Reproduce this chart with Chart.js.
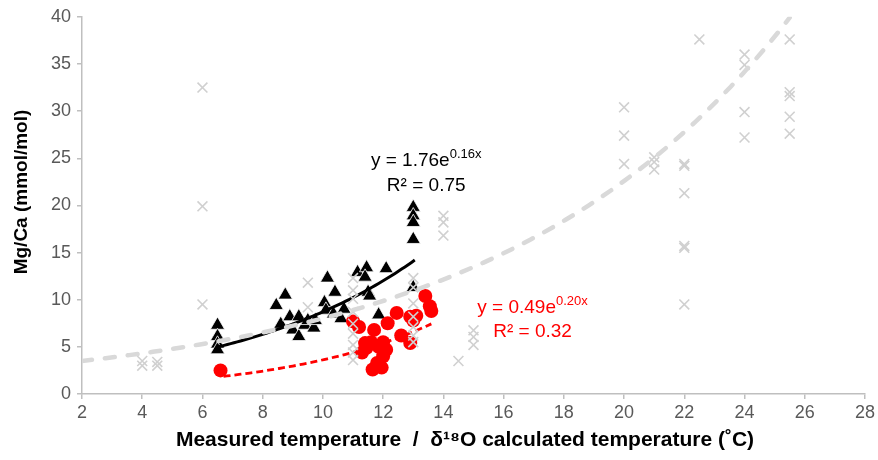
<!DOCTYPE html>
<html>
<head>
<meta charset="utf-8">
<script src="https://cdn.jsdelivr.net/npm/chart.js@4/dist/chart.umd.min.js"></script>
<style>
  html, body { margin: 0; padding: 0; background: #ffffff; }
  #wrap { width: 878px; height: 460px; position: relative; }
</style>
</head>
<body>
<div id="wrap"><canvas id="c" width="878" height="460"></canvas></div>
<script>
// ---- Data ----
// Measured temperature (black triangles)
const measuredX = [6.5, 6.5, 6.5, 6.5, 8.45, 8.75, 8.6, 8.9, 9.2, 9.0, 9.2, 9.4, 9.5, 9.7, 9.75,
                   10.15, 10.4, 10.05, 10.1, 10.35, 10.6, 10.7, 11.15, 11.45, 11.4, 11.5, 11.55, 12.1, 11.85,
                   13.0, 13.0, 13.0, 13.0, 13.0];
const measuredY = [7.3, 6.1, 5.3, 4.7, 9.4, 10.5, 7.4, 8.2, 8.2, 6.8, 6.1, 7.3, 7.8, 7.0, 7.8,
                   12.3, 10.8, 9.7, 8.9, 8.5, 8.0, 9.0, 12.9, 13.4, 12.4, 10.8, 10.4, 13.3, 8.4,
                   19.8, 18.9, 18.2, 16.4, 11.3];
// δ18O calculated temperature (red circles)
const calcX = [6.6, 11.0, 11.2, 11.4, 11.3, 11.45, 11.6, 11.7, 11.85, 12.1, 12.0, 11.8, 11.65, 11.95,
               12.15, 12.45, 12.6, 12.9, 12.9, 13.1, 13.0, 13.4, 13.55, 13.6, 12.0];
const calcY = [2.5, 7.7, 7.1, 5.4, 4.4, 4.9, 5.5, 6.8, 5.0, 4.7, 4.0, 3.3, 2.6, 2.8,
               7.5, 8.6, 6.2, 5.4, 8.2, 8.3, 7.8, 10.4, 9.3, 8.8, 5.5];
// Other published data (grey crosses)
const otherX = [4, 4, 4.5, 4.5, 6, 6, 6, 9.5, 9.5,
                11, 11, 11, 11, 11, 11, 11, 11, 11,
                13, 13, 13, 13, 13, 13, 13,
                14, 14, 14, 14.5, 15, 15, 15,
                20, 20, 20, 21, 21, 21, 22, 22, 22, 22, 22, 22, 22.5,
                24, 24, 24, 24, 25.5, 25.5, 25.5, 25.5, 25.5];
const otherY = [3.0, 3.5, 3.0, 3.4, 32.5, 19.9, 9.5, 11.8, 9.2,
                12.3, 11.0, 10.1, 8.7, 7.45, 6.4, 5.2, 4.4, 3.6,
                12.3, 11.3, 9.6, 8.2, 7.1, 6.2, 5.5,
                18.9, 18.2, 16.8, 3.5, 6.75, 6.05, 5.2,
                30.4, 27.4, 24.4, 25.1, 24.6, 23.8, 24.4, 24.2, 21.3, 15.7, 15.5, 9.5, 37.6,
                36.0, 34.9, 29.9, 27.2, 37.6, 32.0, 31.6, 29.4, 27.6];
// Exponential trend lines y = a·e^(b·x) (equations as printed on the chart; grey estimated)
const trendMeasured = { a: 1.76, b: 0.16, from: 6.5, to: 13.05 };
const trendCalc     = { a: 0.49, b: 0.20, from: 6.7, to: 13.6 };
const trendOther    = { a: 2.85, b: 0.1035, from: 2, to: 25.5 };
const eqMeasured = { coef: '1.76', exp: '0.16x', r2: '0.75' };
const eqCalc     = { coef: '0.49', exp: '0.20x', r2: '0.32' };
// Axis ticks
const xTicks = [2, 4, 6, 8, 10, 12, 14, 16, 18, 20, 22, 24, 26, 28];
const yTicks = [0, 5, 10, 15, 20, 25, 30, 35, 40];

// ---- Build chart ----
const zip = (xs, ys) => xs.map((x, i) => ({ x: x, y: ys[i] }));
function curve(t) {
  const pts = [];
  const n = 60;
  for (let i = 0; i <= n; i++) {
    const x = t.from + (t.to - t.from) * i / n;
    pts.push({ x: x, y: t.a * Math.exp(t.b * x) });
  }
  return pts;
}

const FONT = "'Liberation Sans', Arial, Helvetica, sans-serif";

const textPlugin = {
  id: 'texts',
  afterDraw(chart) {
    const ctx = chart.ctx;
    const xs = chart.scales.x, ys = chart.scales.y;
    ctx.save();
    // axis titles
    ctx.fillStyle = '#000';
    ctx.font = 'bold 21px ' + FONT;
    ctx.textAlign = 'center';
    ctx.textBaseline = 'middle';
    ctx.fillText('Measured temperature  /  \u03B4\u00B9\u2078O calculated temperature (\u02DAC)', 465, 440);
    ctx.translate(22, 192);
    ctx.rotate(-Math.PI / 2);
    ctx.font = 'bold 19px ' + FONT;
    ctx.fillText('Mg/Ca (mmol/mol)', 0, 0);
    ctx.restore();

    function eq(e, cx, y1, y2, color) {
      ctx.save();
      ctx.fillStyle = color;
      ctx.textBaseline = 'alphabetic';
      ctx.textAlign = 'left';
      const main = 'y = ' + e.coef + 'e';
      ctx.font = '19px ' + FONT;
      const w1 = ctx.measureText(main).width;
      ctx.font = '13px ' + FONT;
      const w2 = ctx.measureText(e.exp).width;
      const px = xs.getPixelForValue(cx);
      const b1 = ys.getPixelForValue(y1);
      const x0 = px - (w1 + w2) / 2;
      ctx.font = '19px ' + FONT;
      ctx.fillText(main, x0, b1);
      ctx.font = '13px ' + FONT;
      ctx.fillText(e.exp, x0 + w1, b1 - 8);
      ctx.font = '19px ' + FONT;
      ctx.textAlign = 'center';
      ctx.fillText('R\u00B2 = ' + e.r2, px, ys.getPixelForValue(y2));
      ctx.restore();
    }
    eq(eqMeasured, 13.43, 24.2, 21.5, '#000000');
    eq(eqCalc, 16.96, 8.55, 6.0, '#ff0000');
  }
};

new Chart(document.getElementById('c'), {
  type: 'scatter',
  data: {
    datasets: [
      { label: 'trend other', data: curve(trendOther), showLine: true, pointRadius: 0,
        borderColor: '#d9d9d9', borderWidth: 4.5, borderDash: [10, 13], borderCapStyle: 'round',
        order: 0, tension: 0 },
      { label: 'other', data: zip(otherX, otherY), pointStyle: 'crossRot', pointRadius: 7,
        borderColor: '#d0d0d0', backgroundColor: '#d0d0d0', pointBorderWidth: 1.6, order: 1 },
      { label: 'trend calc', data: curve(trendCalc), showLine: true, pointRadius: 0,
        borderColor: '#ff0000', borderWidth: 2.8, borderDash: [7, 4], order: 2 },
      { label: 'trend measured', data: curve(trendMeasured), showLine: true, pointRadius: 0,
        borderColor: '#000000', borderWidth: 3, order: 3 },
      { label: 'calc', data: zip(calcX, calcY), pointStyle: 'circle', pointRadius: 7,
        backgroundColor: '#ff0000', borderColor: '#ff0000', pointBorderWidth: 0, order: 4 },
      { label: 'measured', data: zip(measuredX, measuredY), pointStyle: 'triangle', pointRadius: 8.2,
        backgroundColor: '#000000', borderColor: '#ffffff', pointBorderWidth: 0.8, order: 5 }
    ]
  },
  options: {
    responsive: false,
    animation: false,
    devicePixelRatio: 1,
    layout: { padding: { top: 15, right: 12, left: 0, bottom: 0 } },
    plugins: { legend: { display: false }, tooltip: { enabled: false } },
    scales: {
      x: {
        type: 'linear', min: 2, max: 28,
        afterBuildTicks(s) { s.ticks = xTicks.map(v => ({ value: v })); },
        afterFit(s) { s.height = 66; },
        grid: { display: true, drawOnChartArea: false, drawTicks: true, tickLength: 5, color: '#bfbfbf', lineWidth: 1.5 },
        border: { display: true, color: '#bfbfbf', width: 1.5 },
        ticks: { color: '#595959', font: { family: FONT, size: 18 }, padding: 3, maxRotation: 0 }
      },
      y: {
        type: 'linear', min: 0, max: 40,
        afterBuildTicks(s) { s.ticks = yTicks.map(v => ({ value: v })); },
        afterFit(s) { s.width = 82; },
        grid: { display: true, drawOnChartArea: false, drawTicks: true, tickLength: 5, color: '#bfbfbf', lineWidth: 1.5 },
        border: { display: true, color: '#bfbfbf', width: 1.5 },
        ticks: { color: '#595959', font: { family: FONT, size: 18 }, padding: 6 }
      }
    }
  },
  plugins: [textPlugin]
});
</script>
</body>
</html>
